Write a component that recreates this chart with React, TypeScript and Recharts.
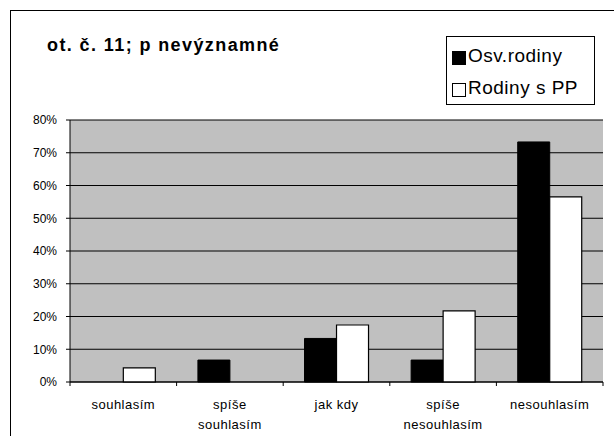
import { BarChart, Bar, XAxis, YAxis, CartesianGrid } from "recharts";

const categories = ["souhlasím", "spíše\nsouhlasím", "jak kdy", "spíše\nnesouhlasím", "nesouhlasím"];
const osvRodiny = [0, 6.7, 13.3, 6.7, 73.3];
const rodinyPP = [4.3, 0, 17.4, 21.7, 56.5];
const yTicks = [0, 10, 20, 30, 40, 50, 60, 70, 80];
const seriesNames = ["Osv.rodiny", "Rodiny s PP"];

const data = categories.map((c, i) => ({
  name: c,
  osv: osvRodiny[i],
  pp: rodinyPP[i],
}));

const FONT = "'Liberation Sans', Arial, sans-serif";

// tick with category-boundary tick marks like the old Excel charts
function CatTick(props: any) {
  const { x, y, payload, index, width, visibleTicksCount } = props;
  const n = visibleTicksCount || categories.length;
  const band = (width || 533) / n;
  const lines = String(payload.value).split("\n");
  return (
    <g>
      <line x1={x - band / 2} x2={x - band / 2} y1={y - 4} y2={y} stroke="#000" />
      {index === n - 1 && <line x1={x + band / 2} x2={x + band / 2} y1={y - 4} y2={y} stroke="#000" />}
      <text x={x} y={y} textAnchor="middle" fill="#000" fontSize={13} fontFamily={FONT} letterSpacing={0.5}>
        {lines.map((l, i) => (
          <tspan key={i} x={x} dy={i === 0 ? 23 : 20}>
            {l}
          </tspan>
        ))}
      </text>
    </g>
  );
}

function LegendBox() {
  const fills = ["#000", "#fff"];
  return (
    <div
      style={{
        position: "absolute",
        left: 446,
        top: 36,
        width: 149,
        height: 69,
        border: "1px solid #000",
        background: "#fff",
        boxSizing: "border-box",
        padding: "3px 0 0 5px",
        fontFamily: FONT,
        fontSize: 19,
        letterSpacing: 0.5,
        color: "#000",
      }}
    >
      {seriesNames.map((label, i) => (
        <div key={label} style={{ display: "flex", alignItems: "center", height: 32 }}>
          <span
            style={{
              display: "inline-block",
              width: 12,
              height: 12,
              background: fills[i],
              border: "1px solid #000",
              marginRight: 2,
              marginTop: 3,
            }}
          />
          <span>{label}</span>
        </div>
      ))}
    </div>
  );
}

export default function App() {
  return (
    <div
      style={{
        position: "absolute",
        left: 0,
        top: 0,
        width: 614,
        height: 436,
        overflow: "hidden",
        background: "#fff",
      }}
    >
      <div
        style={{
          position: "absolute",
          left: 10,
          top: 10,
          width: 640,
          height: 460,
          border: "1px solid #000",
        }}
      />
      <div
        style={{
          position: "absolute",
          left: 47,
          top: 35,
          fontFamily: FONT,
          fontWeight: "bold",
          fontSize: 18,
          letterSpacing: 1.4,
          color: "#000",
          whiteSpace: "nowrap",
        }}
      >
        ot. č. 11; p nevýznamné
      </div>
      <div style={{ position: "absolute", left: 0, top: 0 }}>
        <BarChart
          width={614}
          height={436}
          data={data}
          margin={{ top: 120, right: 11, left: 0, bottom: 0 }}
          barCategoryGap="20%"
          barGap={0}
        >
          <CartesianGrid vertical={false} stroke="#000" fill="#c0c0c0" />
          <XAxis
            dataKey="name"
            height={54}
            axisLine={{ stroke: "#000" }}
            tickLine={false}
            tickSize={4}
            tickMargin={0}
            interval={0}
            tick={<CatTick />}
          />
          <XAxis xAxisId="top" orientation="top" dataKey="name" height={0} tick={false} tickLine={false} axisLine={{ stroke: "#808080" }} />
          <YAxis
            width={70}
            domain={[0, 80]}
            ticks={yTicks}
            interval={0}
            tickFormatter={(v) => `${v}%`}
            axisLine={{ stroke: "#000" }}
            tickLine={{ stroke: "#000" }}
            tickSize={4}
            tickMargin={9}
            tick={{ fill: "#000", fontSize: 12, fontFamily: FONT }}
          />
          <YAxis yAxisId="right" orientation="right" width={0} domain={[0, 80]} tick={false} tickLine={false} axisLine={{ stroke: "#808080" }} />
          <Bar dataKey="osv" name={seriesNames[0]} fill="#000" stroke="#000" isAnimationActive={false} />
          <Bar dataKey="pp" name={seriesNames[1]} fill="#fff" stroke="#000" strokeWidth={1.2} isAnimationActive={false} />
        </BarChart>
      </div>
      <LegendBox />
    </div>
  );
}
